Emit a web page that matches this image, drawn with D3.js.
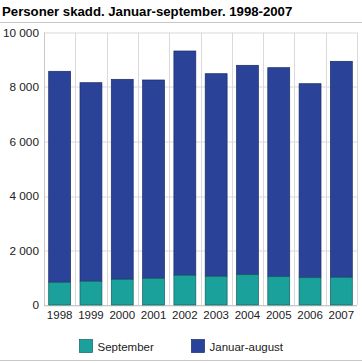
<!DOCTYPE html>
<html>
<head>
<meta charset="utf-8">
<script src="https://cdn.jsdelivr.net/npm/d3@7"></script>
<style>
  body { margin: 0; background: #fff; }
  svg { display: block; font-family: "Liberation Sans", Arial, sans-serif; }
</style>
</head>
<body>
<div class="chart"></div>
<script>
let years = ["1998", "1999", "2000", "2001", "2002", "2003", "2004", "2005", "2006", "2007"];
let september = [833, 870, 943, 980, 1090, 1053, 1112, 1039, 1002, 1016];
let januarAugust = [7743, 7288, 7339, 7277, 8231, 7435, 7684, 7670, 7119, 7927];
let yTicks = [0, 2000, 4000, 6000, 8000, 10000];

let svgWidth = 362;
let svgHeight = 363;

let margin = { top: 32.5, right: 5, bottom: 58, left: 44 };
let width = svgWidth - margin.left - margin.right;
let height = svgHeight - margin.top - margin.bottom;

let svg = d3.select(".chart")
  .append("svg")
  .attr("width", svgWidth)
  .attr("height", svgHeight);

// title
svg.append("text")
  .attr("x", 2)
  .attr("y", 16)
  .attr("font-size", 13.2)
  .attr("font-weight", "bold")
  .attr("fill", "#000")
  .text("Personer skadd. Januar-september. 1998-2007");

svg.append("line")
  .attr("x1", 0).attr("x2", svgWidth)
  .attr("y1", 22.5).attr("y2", 22.5)
  .attr("stroke", "#c8c8c8");

let chartGroup = svg.append("g")
  .attr("transform", `translate(${margin.left}, ${margin.top})`);

let xScale = d3.scaleBand()
  .domain(years)
  .range([0, width])
  .paddingInner(0.3)
  .paddingOuter(0.15);

let yScale = d3.scaleLinear()
  .domain([0, 10000])
  .range([height, 0]);

// horizontal gridlines
chartGroup.selectAll(".hgrid")
  .data(yTicks)
  .enter()
  .append("line")
  .attr("x1", 0).attr("x2", width)
  .attr("y1", d => Math.round(yScale(d)) + 0.5)
  .attr("y2", d => Math.round(yScale(d)) + 0.5)
  .attr("stroke", "#d9d9d9")
  .attr("stroke-width", 1);

// vertical gridlines between categories
chartGroup.selectAll(".vgrid")
  .data(d3.range(1, years.length + 1))
  .enter()
  .append("line")
  .attr("x1", d => Math.round(d * width / years.length) + 0.5)
  .attr("x2", d => Math.round(d * width / years.length) + 0.5)
  .attr("y1", 0).attr("y2", height)
  .attr("stroke", "#d9d9d9");

// axis lines
chartGroup.append("line")
  .attr("x1", 0.5).attr("x2", 0.5)
  .attr("y1", 0).attr("y2", height)
  .attr("stroke", "#c8c8c8");

chartGroup.append("line")
  .attr("x1", 0).attr("x2", width)
  .attr("y1", height + 0.5).attr("y2", height + 0.5)
  .attr("stroke", "#c8c8c8");

// y axis labels
let fmt = d => d3.format(",")(d).replace(/,/g, " ");
chartGroup.selectAll(".ylabel")
  .data(yTicks)
  .enter()
  .append("text")
  .attr("x", -5)
  .attr("y", d => yScale(d))
  .attr("dy", "0.35em")
  .attr("text-anchor", "end")
  .attr("font-size", 11.8)
  .attr("fill", "#222")
  .text(fmt);

// stacked bars
let barData = years.map((y, i) => ({
  year: y,
  sep: september[i],
  jan: januarAugust[i]
}));

let bars = chartGroup.selectAll(".bar")
  .data(barData)
  .enter()
  .append("g");

bars.append("rect")
  .attr("x", d => xScale(d.year))
  .attr("width", xScale.bandwidth())
  .attr("y", d => yScale(d.sep + d.jan))
  .attr("height", d => yScale(d.sep) - yScale(d.sep + d.jan))
  .attr("fill", "#2a4399")
  .attr("stroke", "#1a2a66")
  .attr("stroke-width", 0.7);

bars.append("rect")
  .attr("x", d => xScale(d.year))
  .attr("width", xScale.bandwidth())
  .attr("y", d => yScale(d.sep))
  .attr("height", d => height - yScale(d.sep))
  .attr("fill", "#1aa19b")
  .attr("stroke", "#135f5c")
  .attr("stroke-width", 0.7);

// x labels
chartGroup.selectAll(".xlabel")
  .data(years)
  .enter()
  .append("text")
  .attr("x", d => xScale(d) + xScale.bandwidth() / 2)
  .attr("y", height + 14)
  .attr("text-anchor", "middle")
  .attr("font-size", 11.5)
  .attr("fill", "#222")
  .text(d => d);

// legend
let legendItems = [
  { label: "September", color: "#1aa19b", stroke: "#135f5c", x: 79.5 },
  { label: "Januar-august", color: "#2a4399", stroke: "#1a2a66", x: 191.5 }
];

let legend = svg.selectAll(".legend")
  .data(legendItems)
  .enter()
  .append("g")
  .attr("transform", d => `translate(${d.x}, 339.5)`);

legend.append("rect")
  .attr("width", 13)
  .attr("height", 13)
  .attr("fill", d => d.color)
  .attr("stroke", d => d.stroke)
  .attr("stroke-width", 0.7);

legend.append("text")
  .attr("x", 18)
  .attr("y", 7)
  .attr("dy", "0.35em")
  .attr("font-size", 11.5)
  .attr("fill", "#222")
  .text(d => d.label);

svg.append("line")
  .attr("x1", 0).attr("x2", svgWidth)
  .attr("y1", 360.5).attr("y2", 360.5)
  .attr("stroke", "#c8c8c8");
</script>
</body>
</html>
